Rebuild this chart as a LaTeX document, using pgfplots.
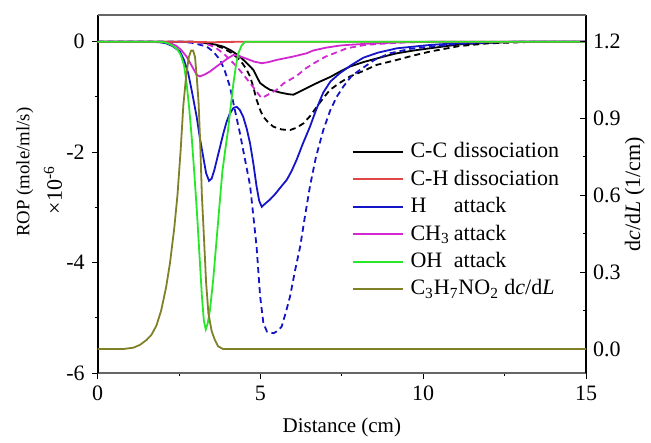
\documentclass[border=0pt]{standalone}
\usepackage{fontspec}
\setmainfont{Liberation Serif}
\usepackage{pgfplots}
\pgfplotsset{compat=1.18}

\definecolor{chred}{RGB}{225,70,70}
\definecolor{hblue}{RGB}{20,20,200}
\definecolor{chmag}{RGB}{210,40,210}
\definecolor{ohgrn}{RGB}{40,230,40}
\definecolor{nolive}{RGB}{128,128,40}

\pgfplotsset{
  base/.style={
    scale only axis, width=244.15pt, height=179pt,
    xmin=0, xmax=15,
    font=\fontsize{11}{13}\selectfont,
    /pgf/number format/assume math mode=true,
    major tick length=3pt, minor tick length=1.5pt,
    every tick/.style={black, line width=0.5pt},
    clip mode=individual,
  },
}

\begin{document}
\begin{tikzpicture}
% ---- left axis: rates of production ----
\begin{axis}[base, name=main,
  ymin=-6, ymax=0.483,
  axis x line*=bottom, axis y line*=left,
  x axis line style={-, black!60, line width=0.6pt},
  y axis line style={-, black, line width=0.8pt},
  tick align=outside,
  xtick={0,5,10,15}, minor xtick={2.5,7.5,12.5},
  ytick={-6,-4,-2,0}, yticklabels={-6,-4,-2,0},
  minor ytick={-5,-3,-1},
  xlabel={Distance (cm)},
  xlabel style={at={(axis description cs:0.5,-0.151)}, anchor=center,
    font=\fontsize{10.5}{12}\selectfont},
]
% C-C dissociation
\addplot[line width=0.9pt, black] coordinates {
 (0,0) (2.8,0) (3.1,-0.01) (3.35,-0.03) (3.6,-0.05) (3.86,-0.09) (4.1,-0.16)
 (4.37,-0.27) (4.6,-0.4) (4.78,-0.51) (4.9,-0.65) (4.99,-0.75) (5.15,-0.82)
 (5.29,-0.87) (5.6,-0.92) (5.85,-0.95) (6.01,-0.96) (6.25,-0.89) (6.52,-0.81)
 (6.8,-0.73) (7.14,-0.64) (7.45,-0.54) (7.75,-0.45) (8.16,-0.37) (8.47,-0.32)
 (8.98,-0.24) (9.19,-0.21) (9.7,-0.16) (10.2,-0.12) (11.1,-0.05) (12,-0.02)
 (13,0) (15,0)};
\addplot[line width=0.9pt, dash pattern=on 3pt off 2pt, black] coordinates {
 (0,0) (3.0,0) (3.3,-0.02) (3.6,-0.06) (3.86,-0.12) (4.1,-0.2) (4.37,-0.33)
 (4.55,-0.48) (4.68,-0.63) (4.78,-0.82) (4.88,-1.05) (5.0,-1.25) (5.09,-1.36)
 (5.25,-1.47) (5.40,-1.54) (5.65,-1.59) (5.91,-1.6) (6.1,-1.56) (6.32,-1.48)
 (6.52,-1.35) (6.73,-1.18) (6.93,-1.02) (7.14,-0.87) (7.45,-0.74) (7.75,-0.63)
 (8.16,-0.53) (8.57,-0.42) (9.19,-0.33) (9.7,-0.25) (10.2,-0.18) (11.1,-0.08)
 (12,-0.03) (13,-0.01) (13.5,0) (15,0)};
% H attack
\addplot[line width=0.9pt, hblue] coordinates {
 (0,0) (1.5,0) (1.9,-0.01) (2.1,-0.03) (2.3,-0.08) (2.53,-0.18) (2.65,-0.33)
 (2.78,-0.57) (2.9,-0.92) (3.04,-1.36) (3.14,-1.75) (3.24,-2.08) (3.33,-2.38)
 (3.42,-2.52) (3.5,-2.48) (3.58,-2.33) (3.66,-2.14) (3.76,-1.9) (3.86,-1.66)
 (3.96,-1.45) (4.06,-1.30) (4.17,-1.2) (4.27,-1.18) (4.37,-1.24) (4.47,-1.36)
 (4.58,-1.58) (4.68,-1.84) (4.78,-2.2) (4.88,-2.62) (4.96,-2.88) (5.04,-2.99)
 (5.15,-2.93) (5.29,-2.86) (5.45,-2.76) (5.60,-2.65) (5.81,-2.50) (5.95,-2.35)
 (6.11,-2.14) (6.3,-1.85) (6.52,-1.54) (6.7,-1.25) (6.83,-1.06) (6.93,-0.92)
 (7.15,-0.72) (7.44,-0.57) (7.8,-0.42) (8.16,-0.29) (8.6,-0.2) (9.19,-0.12)
 (10.2,-0.06) (11.1,-0.025) (12,-0.01) (13,0) (15,0)};
\addplot[line width=0.9pt, dash pattern=on 3pt off 2pt, hblue] coordinates {
 (0,0) (2.5,0) (2.9,-0.02) (3.1,-0.05) (3.35,-0.09) (3.55,-0.18) (3.76,-0.33)
 (3.9,-0.52) (4.06,-0.81) (4.2,-1.2) (4.37,-1.66) (4.52,-2.12) (4.68,-2.6)
 (4.78,-3.15) (4.88,-3.71) (4.94,-4.2) (4.99,-4.61) (5.09,-5.1) (5.2,-5.25)
 (5.4,-5.28) (5.52,-5.24) (5.65,-5.16) (5.78,-4.9) (5.91,-4.61) (6.06,-4.15)
 (6.22,-3.71) (6.37,-3.15) (6.52,-2.62) (6.7,-2.1) (6.93,-1.6) (7.14,-1.25)
 (7.34,-1.0) (7.55,-0.81) (7.8,-0.62) (8.06,-0.51) (8.5,-0.33) (8.98,-0.21)
 (9.6,-0.13) (10.2,-0.09) (11.1,-0.04) (12,-0.015) (13,0) (15,0)};
% CH3 attack
\addplot[line width=0.9pt, chmag] coordinates {
 (0,0) (2.0,0) (2.2,-0.02) (2.4,-0.07) (2.55,-0.14) (2.73,-0.27) (2.9,-0.45)
 (3.04,-0.6) (3.14,-0.63) (3.3,-0.59) (3.45,-0.54) (3.65,-0.45) (3.86,-0.36)
 (4.0,-0.3) (4.17,-0.24) (4.35,-0.26) (4.58,-0.31) (4.8,-0.36) (5.04,-0.39)
 (5.25,-0.37) (5.5,-0.33) (6.0,-0.27) (6.42,-0.21) (6.62,-0.16) (7.0,-0.11)
 (7.44,-0.07) (7.65,-0.06) (8.47,-0.03) (9.5,-0.01) (10.5,0) (15,0)};
\addplot[line width=0.9pt, dash pattern=on 3pt off 2pt, chmag] coordinates {
 (0,0) (3.0,0) (3.3,-0.03) (3.6,-0.1) (3.86,-0.21) (4.07,-0.33) (4.27,-0.45)
 (4.48,-0.6) (4.68,-0.75) (4.85,-0.88) (4.99,-0.99) (5.04,-1.02) (5.2,-0.97)
 (5.5,-0.87) (5.70,-0.76) (6.11,-0.62) (6.4,-0.48) (6.7,-0.37) (7.0,-0.27)
 (7.44,-0.17) (7.65,-0.12) (8.2,-0.06) (8.67,-0.04) (9.5,-0.01) (10.5,0) (15,0)};
% C-H dissociation
\addplot[line width=0.9pt, chred] coordinates {
 (0,0) (2.7,0) (3.0,-0.005) (3.5,-0.01) (4.0,-0.005) (4.5,0) (15,0)};
% OH attack
\addplot[line width=0.9pt, ohgrn] coordinates {
 (0,0) (1.9,0) (2.12,-0.02) (2.3,-0.07) (2.45,-0.14) (2.55,-0.24) (2.65,-0.42)
 (2.73,-0.75) (2.81,-1.2) (2.89,-1.75) (2.97,-2.4) (3.05,-3.1) (3.13,-3.9)
 (3.2,-4.6) (3.26,-5.05) (3.32,-5.21) (3.38,-5.1) (3.45,-4.85) (3.55,-4.3)
 (3.65,-3.6) (3.75,-2.9) (3.83,-2.35) (3.92,-1.95) (4.0,-1.62) (4.08,-1.2)
 (4.17,-0.75) (4.25,-0.42) (4.32,-0.21) (4.42,-0.07) (4.53,0) (15,0)};
% left-hand axis title
\node[rotate=90, anchor=center, font=\fontsize{9.4}{11}\selectfont]
  at (axis description cs:-0.149,0.561) {ROP (mole/ml/s)};
\node[rotate=90, anchor=center]
  at (axis description cs:-0.0915,0.511) {×10\textsuperscript{-6}};
\end{axis}

% ---- right axis: fuel consumption gradient ----
\begin{axis}[base,
  ymin=-0.094, ymax=1.304,
  axis x line=none, axis y line*=right,
  y axis line style={-, black, line width=0.8pt},
  tick align=inside,
  ytick={0,0.3,0.6,0.9,1.2}, yticklabels={0.0,0.3,0.6,0.9,1.2},
  minor ytick={0.15,0.45,0.75,1.05},
  ylabel={d\textit{c}/d\textit{L} (1/cm)},
  ylabel style={at={(axis description cs:1.1,0.5)}, anchor=center},
  legend cell align=left,
  legend image code/.code={\draw[#1] (0pt,0pt) -- (25pt,0pt);},
  legend style={at={(axis description cs:0.519,0.652)}, anchor=north west,
    draw=none, fill=none, inner sep=0pt, row sep=1.7pt,
    font=\fontsize{11}{13}\selectfont,
    nodes={inner sep=1pt, text height=8pt, text depth=2pt},
    /tikz/every odd column/.append style={column sep=2.5pt}},
]
\addlegendimage{line width=1pt, color=black}
\addlegendentry{\makebox[21.7pt][l]{C-C}dissociation}
\addlegendimage{line width=0.9pt, color=chred}
\addlegendentry{\makebox[21.7pt][l]{C-H}dissociation}
\addlegendimage{line width=0.9pt, color=hblue}
\addlegendentry{\makebox[21.7pt][l]{H}attack}
\addlegendimage{line width=0.9pt, color=chmag}
\addlegendentry{\makebox[21.7pt][l]{CH\textsubscript{3}}attack}
\addlegendimage{line width=0.9pt, color=ohgrn}
\addlegendentry{\makebox[21.7pt][l]{OH}attack}
\addlegendimage{line width=0.9pt, color=nolive}
\addlegendentry{C\textsubscript{3}H\textsubscript{7}NO\textsubscript{2} d\textit{c}/d\textit{L}}
\addplot[line width=0.9pt, color=nolive, forget plot] coordinates {
 (0,0) (0.8,0) (1.1,0.005) (1.3,0.016) (1.5,0.035) (1.65,0.055) (1.8,0.09)
 (1.95,0.15) (2.1,0.24) (2.22,0.335) (2.35,0.47) (2.45,0.6) (2.55,0.78)
 (2.63,0.95) (2.72,1.07) (2.8,1.14) (2.87,1.165) (2.93,1.165) (2.99,1.14)
 (3.05,1.05) (3.1,0.96) (3.15,0.8) (3.2,0.6) (3.27,0.42) (3.33,0.26)
 (3.4,0.14) (3.5,0.07) (3.6,0.035) (3.7,0.01) (3.85,0) (15,0)};
\end{axis}

% upper frame edge
\draw[black!60, line width=0.6pt] (main.north west) -- (main.north east);

\pgfresetboundingbox
\path[use as bounding box] ([xshift=-48.85pt,yshift=-34.5pt]main.south west)
  rectangle ([xshift=32.5pt,yshift=7.5pt]main.north east);
\end{tikzpicture}
\end{document}
